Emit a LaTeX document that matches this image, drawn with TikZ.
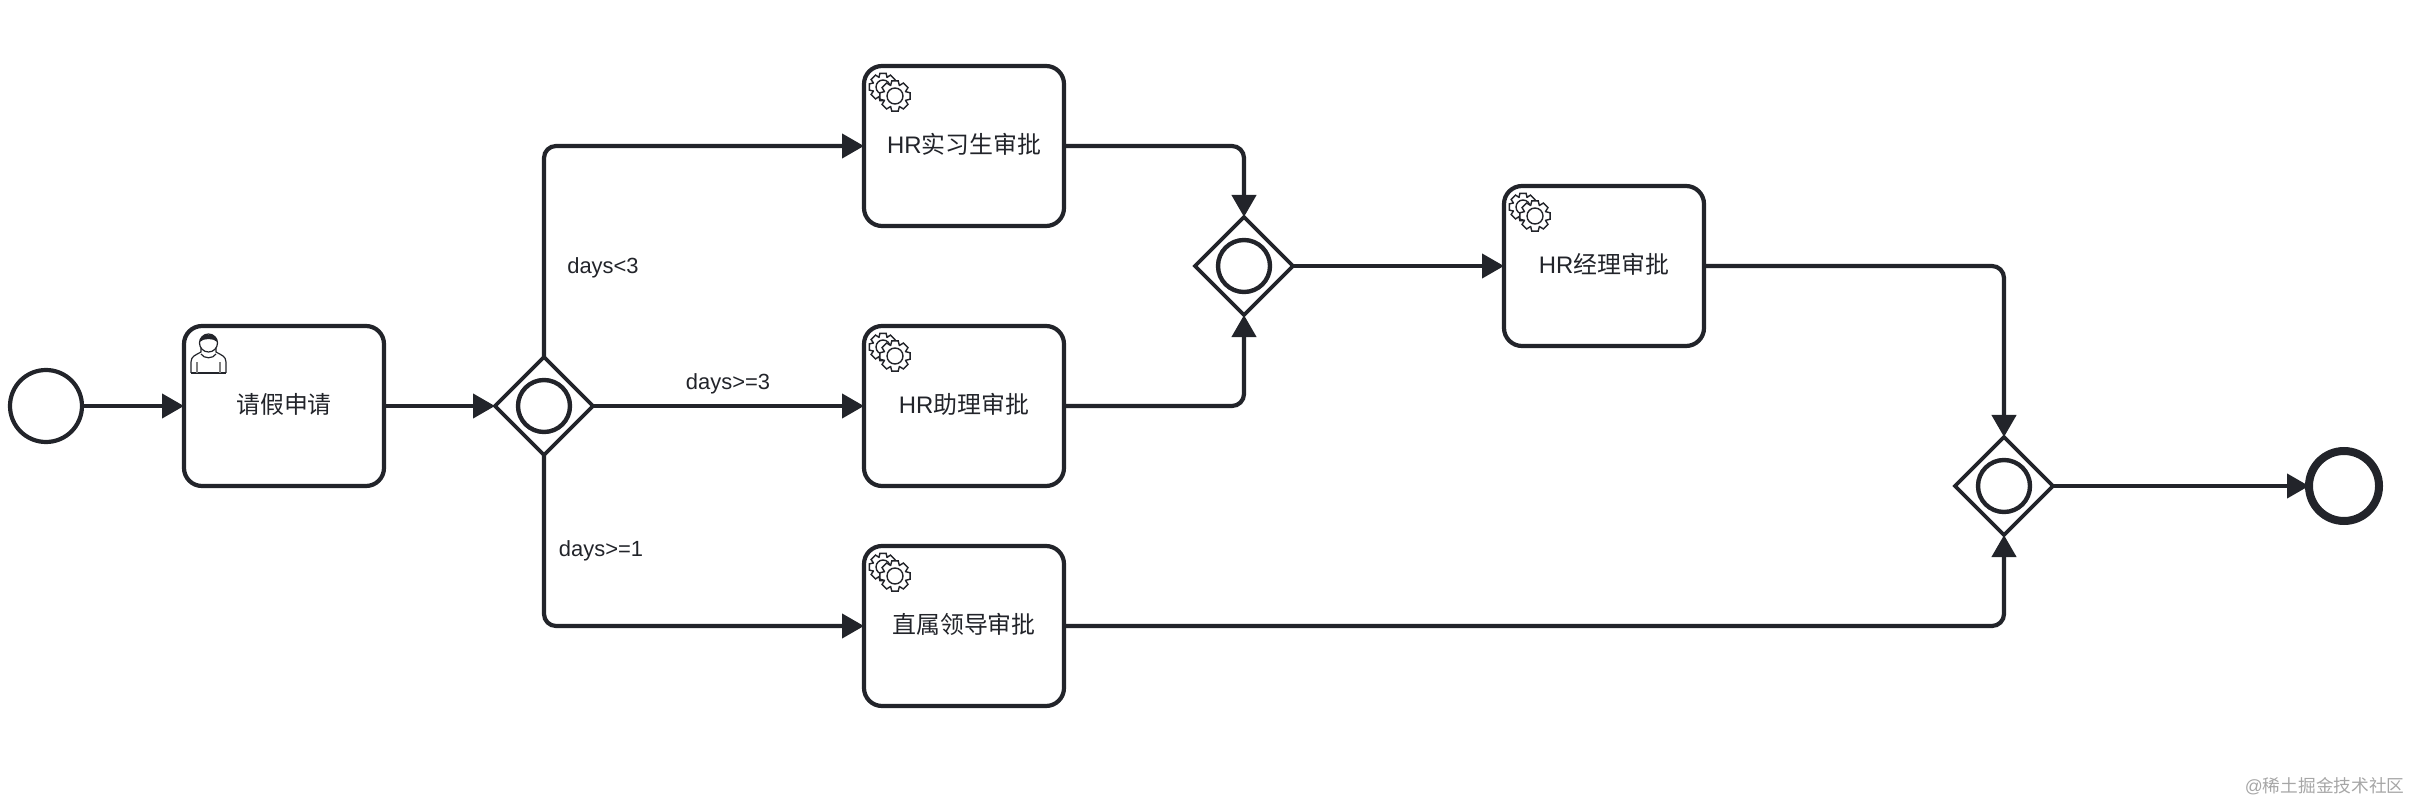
\documentclass[tikz,border=0pt]{standalone}
\usepackage{fontspec}
\setmainfont{Liberation Sans}
\newfontfamily\cjk{Noto Sans CJK SC}
\usepackage{tikz}
\usetikzlibrary{positioning, arrows.meta, shapes.geometric}
\definecolor{inkdark}{HTML}{22242A}
\tikzstyle{process} = [rectangle, rounded corners=0.45cm, minimum width=5cm, minimum height=4cm, text centered, text height=0.42cm, text depth=0.04cm, draw=inkdark, line width=0.105cm, outer sep=0pt, text=inkdark, font=\fontsize{17}{20}\selectfont]
\tikzstyle{startevent} = [circle, minimum size=1.8cm, inner sep=0pt, outer sep=0pt, draw=inkdark, line width=0.105cm]
\tikzstyle{endevent} = [circle, minimum size=1.75cm, inner sep=0pt, outer sep=0pt, draw=inkdark, line width=0.2cm]
\tikzstyle{gateway} = [diamond, minimum width=2.45cm, minimum height=2.45cm, inner sep=0pt, outer sep=0pt, draw=inkdark, line width=0.095cm]
\tikzstyle{ring} = [circle, minimum size=1.3cm, inner sep=0pt, draw=inkdark, line width=0.11cm]
\tikzstyle{arrow} = [line width=0.105cm, draw=inkdark, rounded corners=0.3cm, -{Triangle[length=0.55cm,width=0.6cm]}, fill=none]
\tikzstyle{flowlabel} = [text=inkdark, inner sep=0pt, font=\fontsize{15.6}{18}\selectfont]
\tikzset{
  usericon/.pic={
    \begin{scope}[scale=0.025, draw=inkdark, line width=0.03cm]
      \draw (-17,-30) -- (-17,-19) .. controls (-17,-13) and (-12,-12) .. (-7,-9) -- (-7,-5);
      \draw (18,-30) -- (18,-19) .. controls (18,-13) and (13,-12) .. (8,-9) -- (8,-5);
      \draw (-17,-30) -- (18,-30);
      \draw (-7,-11) .. controls (-4,-16) and (5,-16) .. (8,-11);
      \draw[gray] (-11,-30) -- (-11,-19) (12,-30) -- (12,-19);
      \draw (0.5,0) circle (9);
      \fill[inkdark] (-8.5,1) .. controls (-8,11) and (9,11) .. (9.5,1) .. controls (5,5) and (-4,5) .. (-8.5,1) -- cycle;
    \end{scope}
  },
  gearicon/.pic={
    \begin{scope}[scale=0.025, draw=inkdark, line width=0.035cm]
      \draw[fill=white, shift={(-12,9)}] (-22:10.5) \foreach \a in {0,45,...,315} { -- (\a-22:10.5) -- (\a-13:14) -- (\a+13:14) -- (\a+22:10.5) } -- cycle;
      \draw[shift={(-12,9)}] (0,0) circle (7);
      \draw[fill=white] (-22:11.5) \foreach \a in {0,45,...,315} { -- (\a-22:11.5) -- (\a-12:15.5) -- (\a+12:15.5) -- (\a+22:11.5) } -- cycle;
      \draw (0,0) circle (8);
    \end{scope}
  }
}

\begin{document}
\begin{tikzpicture}
\useasboundingbox (-1.15,-9.85) rectangle (59.15,10.15);

\node (start) [startevent] at (0,0) {};
\node (leave) [process, node distance=5.95cm, right of=start] {{\cjk 请假申请}};
\node (gw1) [gateway, node distance=6.5cm, right of=leave] {};
\node (hrassist) [process, node distance=10.5cm, right of=gw1] {HR{\cjk 助理审批}};
\node (hrintern) [process, node distance=6.5cm, above of=hrassist] {HR{\cjk 实习生审批}};
\node (leader) [process, node distance=5.5cm, below of=hrassist] {{\cjk 直属领导审批}};
\node (gw2) [gateway, node distance=7cm, right of=hrintern, yshift=-3cm] {};
\node (hrmanager) [process, node distance=9cm, right of=gw2] {HR{\cjk 经理审批}};
\node (gw3) [gateway, node distance=10cm, right of=hrmanager, yshift=-5.5cm] {};
\node (finish) [endevent, node distance=8.5cm, right of=gw3] {};

\node (gw1ring) [ring] at (gw1) {};
\node (gw2ring) [ring] at (gw2) {};
\node (gw3ring) [ring] at (gw3) {};

\draw [arrow] (start) -- (leave);
\draw [arrow] (leave) -- (gw1);
\draw [arrow] (gw1) |- (hrintern);
\draw [arrow] (gw1) -- (hrassist);
\draw [arrow] (gw1) |- (leader);
\draw [arrow] (hrintern) -| (gw2);
\draw [arrow] (hrassist) -| (gw2);
\draw [arrow] (gw2) -- (hrmanager);
\draw [arrow] (hrmanager) -| (gw3);
\draw [arrow] (leader) -| (gw3);
\draw [arrow] (gw3) -- (finish);

\node (lt3) [flowlabel] at ([shift={(1.475,3.45)}]gw1.center) {days<3};
\node (ge3) [flowlabel] at ([shift={(4.6,0.55)}]gw1.center) {days>=3};
\node (ge1) [flowlabel] at ([shift={(1.425,-3.625)}]gw1.center) {days>=1};

\pic at ([shift={(-1.9,1.575)}]leave.center) {usericon};
\pic at ([shift={(-1.725,1.25)}]hrintern.center) {gearicon};
\pic at ([shift={(-1.725,1.25)}]hrassist.center) {gearicon};
\pic at ([shift={(-1.725,1.25)}]leader.center) {gearicon};
\pic at ([shift={(-1.725,1.25)}]hrmanager.center) {gearicon};

\node (mark) [text=black!35, inner sep=0pt, font=\fontsize{12.6}{15}\selectfont] at (56.97,-9.5) {@{\cjk 稀土掘金技术社区}};
\end{tikzpicture}
\end{document}
